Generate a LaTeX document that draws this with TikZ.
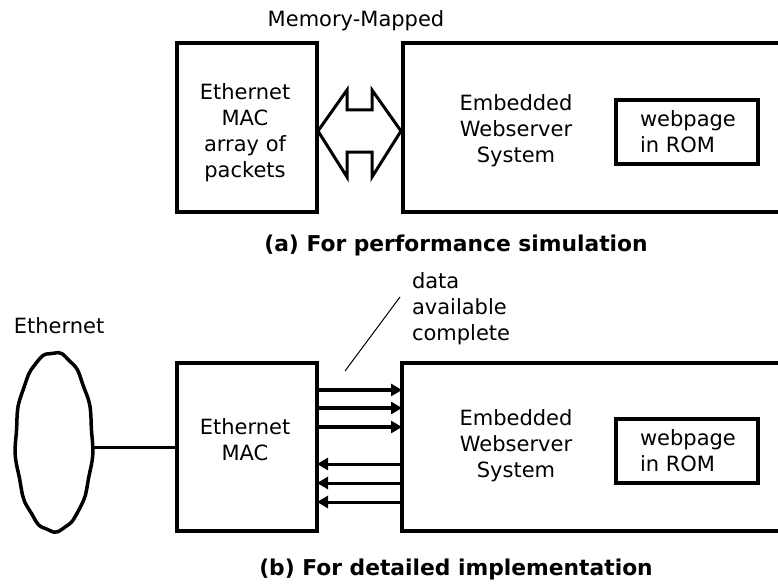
\documentclass[tikz,border=0pt]{standalone}
\usepackage{fontspec}
\setmainfont{DejaVu Sans}
\usetikzlibrary{arrows.meta}
\begin{document}
\begin{tikzpicture}[x=1pt,y=-1pt,
  every node/.style={font=\fontsize{21}{26}\selectfont, inner sep=0pt, outer sep=0pt},
  blk/.style={draw, line width=3.5pt, inner sep=0pt},
  lbl/.style={align=center, anchor=north},
  lbll/.style={align=left, anchor=north west},
  captxt/.style={font=\fontsize{21.8}{26}\selectfont\bfseries, anchor=base},
  sig/.style={line width=4pt, -{Triangle[length=11pt,width=12pt]}},
  sigb/.style={line width=3pt, -{Triangle[length=11pt,width=12pt]}},
  thinline/.style={line width=1pt}]
\useasboundingbox (0,0) rectangle (778,583);
% ---------------- (a) ----------------
\node[anchor=base] (mm) at (356,27) {Memory-Mapped};
\node[blk, minimum width=140pt, minimum height=169pt] (maca) at (247,127.5) {};
\node[lbl] (maclbla) at (245,84) {Ethernet\\MAC\\array of\\packets};
\node[blk, minimum width=400pt, minimum height=169pt] (sysa) at (603,127.5) {};
\node[lbl] (syslbla) at (516,95) {Embedded\\Webserver\\System};
\node[blk, minimum width=142pt, minimum height=64pt] (roma) at (687,132) {};
\node[lbll] (romlbla) at (640,111) {webpage\\in ROM};
\draw[line width=3pt, line join=miter] (318,131) -- (347,90) -- (347,110) -- (372,110) -- (372,90) -- (401,131) -- (372,177) -- (372,152) -- (347,152) -- (347,177) -- cycle;
\node[captxt] (capa) at (456,251) {(a) For performance simulation};
% ---------------- (b) ----------------
\node[anchor=base] (eth) at (59,333) {Ethernet};
\draw[line width=3.5pt] plot[smooth cycle, variable=\t, domain=0:354, samples=60]
  ({54+(38.5+0.7*sin(11*\t))*cos(\t)}, {442+(89.5+0.9*sin(13*\t+40))*sin(\t)});
\coordinate (ethr) at (93,447);
\node[blk, minimum width=140pt, minimum height=168pt] (macb) at (247,447) {};
\node[lbl] (maclblb) at (245,419) {Ethernet\\MAC};
\node[blk, minimum width=400pt, minimum height=168pt] (sysb) at (602,447) {};
\node[lbl] (syslblb) at (516,410) {Embedded\\Webserver\\System};
\node[blk, minimum width=142pt, minimum height=64pt] (romb) at (687,451) {};
\node[lbll] (romlblb) at (640,430) {webpage\\in ROM};
\draw[line width=3pt] (ethr) -- (ethr -| macb.west);
\foreach \yy in {390,408,427} {
  \draw[sig] (macb.east |- 0,\yy) -- (sysb.west |- 0,\yy);
}
\foreach \yy in {464,483,502} {
  \draw[sigb] (sysb.west |- 0,\yy) -- (macb.east |- 0,\yy);
}
\node[lbll] (dac) at (412,273) {data\\available\\complete};
\coordinate (lead1) at (345,371);
\coordinate (lead2) at (400,297);
\draw[thinline] (lead1) -- (lead2);
\node[captxt] (capb) at (456,575) {(b) For detailed implementation};
\end{tikzpicture}
\end{document}
